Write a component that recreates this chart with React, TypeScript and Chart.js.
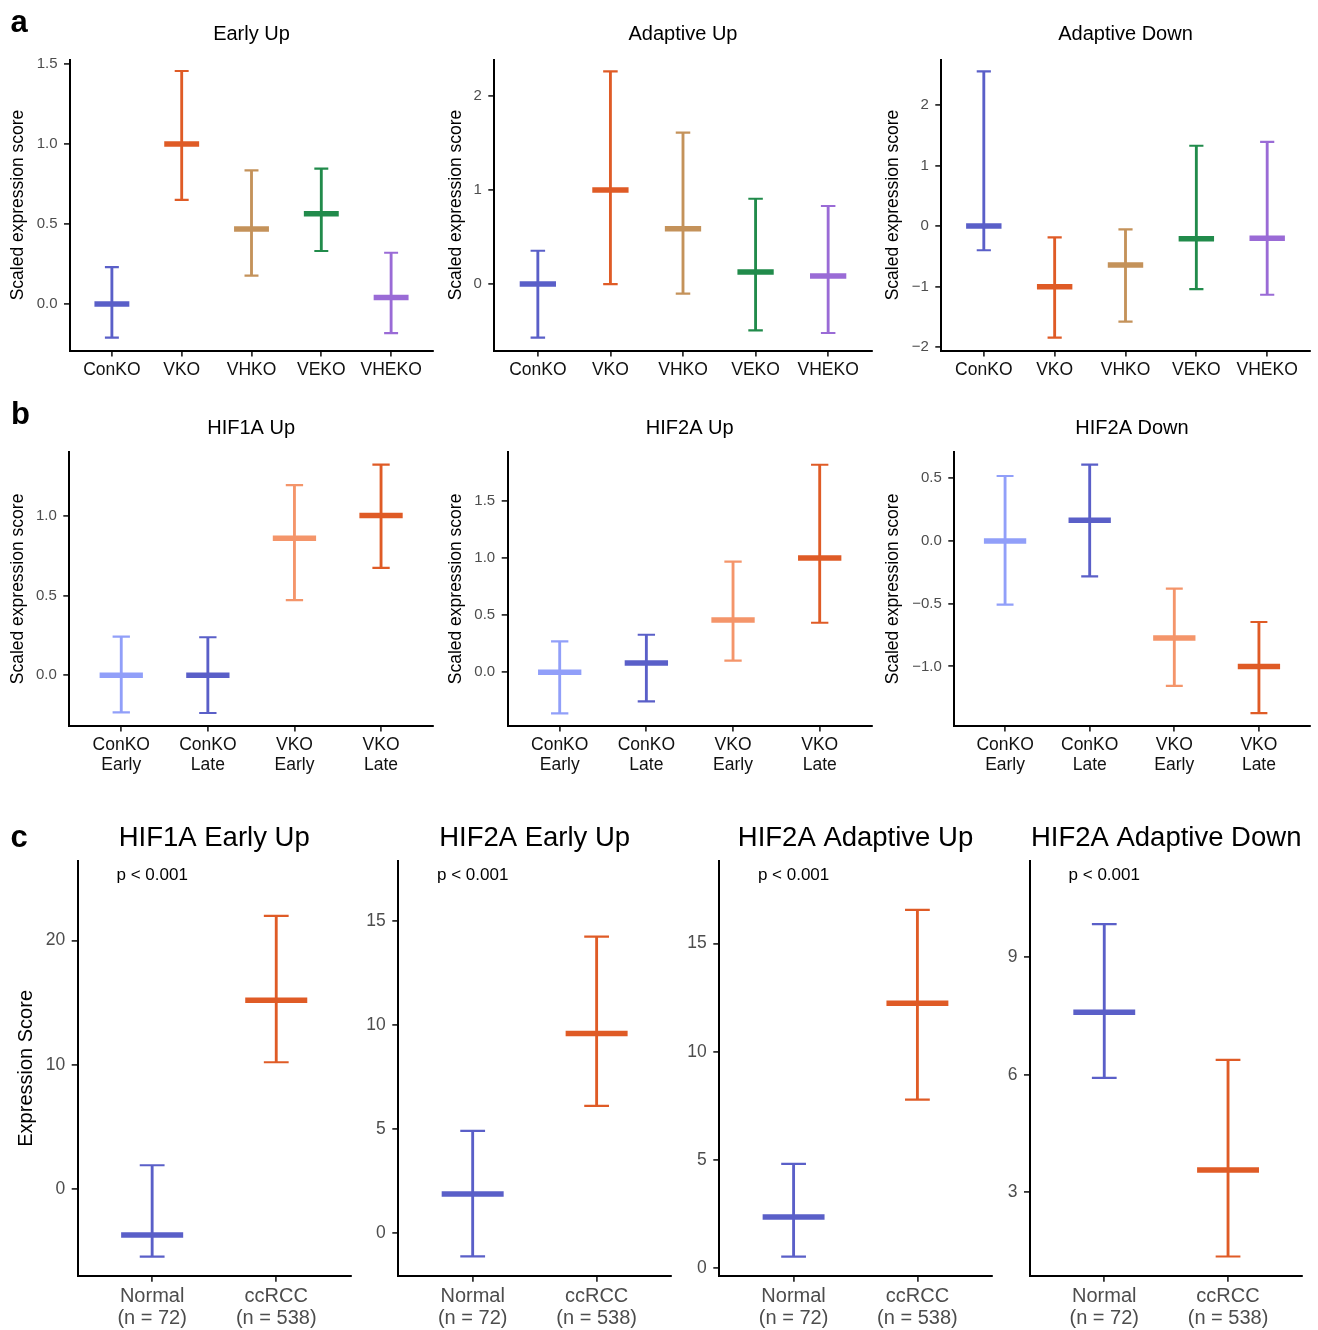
import React, { useEffect, useRef } from 'react';
import { Chart, registerables } from 'chart.js';

Chart.register(...registerables);

const FONT = "'Liberation Sans', Arial, Helvetica, sans-serif";

// ---------------- data: panel a ----------------
const koGroups = ['ConKO', 'VKO', 'VHKO', 'VEKO', 'VHEKO'];
const koColors = ['#5a5fc8', '#df5b26', '#c4925a', '#218b4b', '#9a6bd6'];

const earlyUpMean = [0, 1.0, 0.469, 0.564, 0.04];
const earlyUpLow = [-0.21, 0.65, 0.177, 0.331, -0.183];
const earlyUpHigh = [0.23, 1.456, 0.835, 0.846, 0.32];
const earlyUpTicks = ['0.0', '0.5', '1.0', '1.5'];

const adaptiveUpMean = [0, 1.0, 0.589, 0.128, 0.085];
const adaptiveUpLow = [-0.571, 0.0, -0.103, -0.493, -0.521];
const adaptiveUpHigh = [0.354, 2.262, 1.61, 0.907, 0.83];
const adaptiveUpTicks = ['0', '1', '2'];

const adaptiveDownMean = [0, -1.0, -0.644, -0.21, -0.203];
const adaptiveDownLow = [-0.4, -1.843, -1.579, -1.04, -1.134];
const adaptiveDownHigh = [2.553, -0.187, -0.055, 1.325, 1.39];
const adaptiveDownTicks = ['−2', '−1', '0', '1', '2'];

// ---------------- data: panel b ----------------
const timeGroups = [['ConKO', 'Early'], ['ConKO', 'Late'], ['VKO', 'Early'], ['VKO', 'Late']];
const timeColors = ['#919ff9', '#5a5fc8', '#f4956a', '#df5b26'];

const hif1aUpMean = [0, 0, 0.858, 1.0];
const hif1aUpLow = [-0.232, -0.236, 0.47, 0.672];
const hif1aUpHigh = [0.242, 0.238, 1.19, 1.319];
const hif1aUpTicks = ['0.0', '0.5', '1.0'];

const hif2aUpMean = [0, 0.081, 0.458, 1.0];
const hif2aUpLow = [-0.359, -0.254, 0.102, 0.434];
const hif2aUpHigh = [0.271, 0.329, 0.968, 1.816];
const hif2aUpTicks = ['0.0', '0.5', '1.0', '1.5'];

const hif2aDownMean = [0, 0.165, -0.774, -1.0];
const hif2aDownLow = [-0.508, -0.282, -1.156, -1.372];
const hif2aDownHigh = [0.518, 0.609, -0.38, -0.646];
const hif2aDownTicks = ['−1.0', '−0.5', '0.0', '0.5'];

// ---------------- data: panel c ----------------
const tcgaGroups = [['Normal', '(n = 72)'], ['ccRCC', '(n = 538)']];
const tcgaColors = ['#5a5fc8', '#df5b26'];
const pLabel = 'p < 0.001';

const hif1aEarlyUpMean = [-3.7, 15.19];
const hif1aEarlyUpLow = [-5.45, 10.2];
const hif1aEarlyUpHigh = [1.91, 21.98];
const hif1aEarlyUpTicks = ['0', '10', '20'];

const hif2aEarlyUpMean = [1.89, 9.6];
const hif2aEarlyUpLow = [-1.11, 6.13];
const hif2aEarlyUpHigh = [4.92, 14.26];
const hif2aEarlyUpTicks = ['0', '5', '10', '15'];

const hif2aAdaptiveUpMean = [2.37, 12.24];
const hif2aAdaptiveUpLow = [0.54, 7.79];
const hif2aAdaptiveUpHigh = [4.82, 16.55];
const hif2aAdaptiveUpTicks = ['0', '5', '10', '15'];

const hif2aAdaptiveDownMean = [7.6, 3.57];
const hif2aAdaptiveDownLow = [5.92, 1.36];
const hif2aAdaptiveDownHigh = [9.85, 6.38];
const hif2aAdaptiveDownTicks = ['3', '6', '9'];

// ---------------- layout / style ----------------
const rowA = { top: 0, height: 392, plotTop: 59.5, plotBottom: 350.5, titleSize: 20, titleBaseline: 40,
  yTitle: 'Scaled expression score', yTitleSize: 17.5, yTickSize: 15, xTickSize: 17.5, xTickColor: '#111', xLineHeight: 1.15 };
const rowB = { ...rowA, top: 392, height: 408, plotTop: 452.3, plotBottom: 725.6, titleBaseline: 42 };
const rowC = { top: 800, height: 530, plotTop: 861, plotBottom: 1275.7, titleSize: 27.5, titleBaseline: 46,
  yTitle: '', yTitleSize: 20, yTickSize: 17.5, xTickSize: 20, xTickColor: '#4d4d4d', xLineHeight: 1.1, pText: pLabel };

const panels: any[] = [
  { ...rowA, key: 'a1', groups: koGroups, colors: koColors, mean: earlyUpMean, low: earlyUpLow, high: earlyUpHigh, yTicks: earlyUpTicks,
    yMin: -0.291, yMax: 1.528, left: 0, width: 440, axisX: 70, right: 433, title: 'Early Up', yTitleX: 18,
    letter: 'a', letterX: 10.5, letterY: 32 },
  { ...rowA, key: 'a2', groups: koGroups, colors: koColors, mean: adaptiveUpMean, low: adaptiveUpLow, high: adaptiveUpHigh, yTicks: adaptiveUpTicks,
    yMin: -0.707, yMax: 2.388, left: 440, width: 438, axisX: 494.3, right: 871.7, title: 'Adaptive Up', yTitleX: 456 },
  { ...rowA, key: 'a3', groups: koGroups, colors: koColors, mean: adaptiveDownMean, low: adaptiveDownLow, high: adaptiveDownHigh, yTicks: adaptiveDownTicks,
    yMin: -2.054, yMax: 2.748, left: 878, width: 440, axisX: 941.3, right: 1309.7, title: 'Adaptive Down', yTitleX: 893 },
  { ...rowB, key: 'b1', groups: timeGroups, colors: timeColors, mean: hif1aUpMean, low: hif1aUpLow, high: hif1aUpHigh, yTicks: hif1aUpTicks,
    yMin: -0.315, yMax: 1.396, left: 0, width: 440, axisX: 69.3, right: 433, title: 'HIF1A Up', yTitleX: 18.3,
    letter: 'b', letterX: 11, letterY: 32.3 },
  { ...rowB, key: 'b2', groups: timeGroups, colors: timeColors, mean: hif2aUpMean, low: hif2aUpLow, high: hif2aUpHigh, yTicks: hif2aUpTicks,
    yMin: -0.466, yMax: 1.925, left: 440, width: 438, axisX: 507.7, right: 871.7, title: 'HIF2A Up', yTitleX: 456 },
  { ...rowB, key: 'b3', groups: timeGroups, colors: timeColors, mean: hif2aDownMean, low: hif2aDownLow, high: hif2aDownHigh, yTicks: hif2aDownTicks,
    yMin: -1.472, yMax: 0.707, left: 878, width: 440, axisX: 954.3, right: 1309.7, title: 'HIF2A Down', yTitleX: 893 },
  { ...rowC, key: 'c1', groups: tcgaGroups, colors: tcgaColors, mean: hif1aEarlyUpMean, low: hif1aEarlyUpLow, high: hif1aEarlyUpHigh, yTicks: hif1aEarlyUpTicks,
    yMin: -6.98, yMax: 26.4, left: 0, width: 358, axisX: 77.7, right: 350.7, title: 'HIF1A Early Up', yTitle: 'Expression Score', yTitleX: 26.7,
    letter: 'c', letterX: 10.5, letterY: 47.3 },
  { ...rowC, key: 'c2', groups: tcgaGroups, colors: tcgaColors, mean: hif2aEarlyUpMean, low: hif2aEarlyUpLow, high: hif2aEarlyUpHigh, yTicks: hif2aEarlyUpTicks,
    yMin: -2.04, yMax: 17.9, left: 358, width: 320, axisX: 398.3, right: 671, title: 'HIF2A Early Up' },
  { ...rowC, key: 'c3', groups: tcgaGroups, colors: tcgaColors, mean: hif2aAdaptiveUpMean, low: hif2aAdaptiveUpLow, high: hif2aAdaptiveUpHigh, yTicks: hif2aAdaptiveUpTicks,
    yMin: -0.34, yMax: 18.81, left: 678, width: 320, axisX: 719.3, right: 991.7, title: 'HIF2A Adaptive Up' },
  { ...rowC, key: 'c4', groups: tcgaGroups, colors: tcgaColors, mean: hif2aAdaptiveDownMean, low: hif2aAdaptiveDownLow, high: hif2aAdaptiveDownHigh, yTicks: hif2aAdaptiveDownTicks,
    yMin: 0.87, yMax: 11.46, left: 998, width: 320, axisX: 1030, right: 1302.3, title: 'HIF2A Adaptive Down' },
];

const panelTextPlugin = {
  id: 'panelText',
  afterDraw(chart: any, _args: any, opts: any) {
    const { ctx, chartArea } = chart;
    ctx.save();
    ctx.fillStyle = '#000';
    ctx.textBaseline = 'alphabetic';
    if (opts.title) {
      ctx.font = `${opts.titleSize}px ${FONT}`;
      ctx.textAlign = 'center';
      ctx.fillText(opts.title, (chartArea.left + chartArea.right) / 2, opts.titleBaseline);
    }
    if (opts.pText) {
      const xs = chart.scales.x;
      ctx.font = `17px ${FONT}`;
      ctx.textAlign = 'center';
      ctx.fillText(opts.pText, xs.getPixelForValue(0), chartArea.top + 19);
    }
    if (opts.letter) {
      ctx.font = `bold 31px ${FONT}`;
      ctx.textAlign = 'left';
      ctx.fillText(opts.letter, opts.letterX, opts.letterY);
    }
    ctx.restore();
  },
};

const spacing = (ctx: any) => {
  const xs = ctx.chart.scales.x;
  return xs ? Math.abs(xs.getPixelForValue(1) - xs.getPixelForValue(0)) : 10;
};

function buildChart(canvas: HTMLCanvasElement, p: any) {
  const n = p.groups.length;
  const yTickValues = p.yTicks.map((s: string) => Number(s.replace('−', '-')));
  const axisGrid = { display: true, drawOnChartArea: false, drawTicks: true, tickLength: 6, color: '#333333', lineWidth: 1.8, offset: false };
  const axisBorder = { display: true, color: '#000', width: 2 };
  const meanRadius = (ctx: any) => spacing(ctx) * 0.25;
  const capRadius = (ctx: any) => spacing(ctx) * 0.1;
  return new Chart(canvas, {
    type: 'scatter',
    data: {
      datasets: [
        {
          type: 'scatter', order: 0,
          data: p.mean.map((v: number, i: number) => ({ x: i, y: v })),
          pointStyle: 'line', pointRadius: meanRadius, pointHoverRadius: meanRadius,
          pointBorderWidth: 5.5, pointHoverBorderWidth: 5.5,
          pointBorderColor: p.colors, pointBackgroundColor: p.colors,
        },
        {
          type: 'scatter', order: 1,
          data: [
            ...p.low.map((v: number, i: number) => ({ x: i, y: v })),
            ...p.high.map((v: number, i: number) => ({ x: i, y: v })),
          ],
          pointStyle: 'line', pointRadius: capRadius, pointHoverRadius: capRadius,
          pointBorderWidth: 2.2, pointHoverBorderWidth: 2.2,
          pointBorderColor: [...p.colors, ...p.colors], pointBackgroundColor: [...p.colors, ...p.colors],
        },
        {
          type: 'bar', order: 2,
          data: p.low.map((v: number, i: number) => ({ x: i, y: [v, p.high[i]] })),
          barThickness: 2.2, backgroundColor: p.colors, borderWidth: 0,
        },
      ],
    } as any,
    options: {
      responsive: false,
      animation: false,
      devicePixelRatio: 1,
      events: [],
      layout: { padding: { left: 0, top: p.plotTop - p.top, right: p.left + p.width - p.right, bottom: 0 } },
      plugins: {
        legend: { display: false },
        tooltip: { enabled: false },
        title: { display: false },
        panelText: {
          title: p.title, titleSize: p.titleSize, titleBaseline: p.titleBaseline,
          pText: p.pText, letter: p.letter, letterX: p.letterX, letterY: p.letterY,
        },
      } as any,
      scales: {
        x: {
          type: 'linear', position: 'bottom', min: -0.6, max: n - 0.4, offset: false, bounds: 'data',
          afterBuildTicks: (s: any) => { s.ticks = p.groups.map((_: any, i: number) => ({ value: i })); },
          afterFit: (s: any) => { s.height = p.top + p.height - p.plotBottom; },
          grid: axisGrid, border: axisBorder,
          ticks: {
            autoSkip: false, maxRotation: 0, minRotation: 0, padding: 3.5, color: p.xTickColor,
            font: { family: FONT, size: p.xTickSize, lineHeight: p.xLineHeight },
            callback: (_v: any, i: number) => p.groups[i],
          },
        },
        y: {
          type: 'linear', position: 'left', min: p.yMin, max: p.yMax, bounds: 'data',
          afterBuildTicks: (s: any) => { s.ticks = yTickValues.map((v: number) => ({ value: v })); },
          afterFit: (s: any) => { s.width = p.axisX - p.left; },
          grid: axisGrid, border: axisBorder,
          ticks: {
            autoSkip: false, padding: 6.5, color: '#4d4d4d',
            font: { family: FONT, size: p.yTickSize },
            callback: (_v: any, i: number) => p.yTicks[i],
          },
          title: p.yTitle
            ? {
                display: true, text: p.yTitle, color: '#000',
                font: { family: FONT, size: p.yTitleSize, lineHeight: 1.2 },
                padding: { top: p.yTitleX - p.left - p.yTitleSize * 0.6, bottom: 0 },
              }
            : { display: false },
        },
      } as any,
    },
    plugins: [panelTextPlugin as any],
  } as any);
}

function Panel({ p }: { p: any }) {
  const ref = useRef<HTMLCanvasElement | null>(null);
  useEffect(() => {
    if (!ref.current) return;
    const chart = buildChart(ref.current, p);
    return () => chart.destroy();
  }, [p]);
  return (
    <canvas
      ref={ref}
      width={p.width}
      height={p.height}
      style={{ position: 'absolute', left: p.left, top: p.top, width: p.width, height: p.height }}
    />
  );
}

export default function App() {
  return (
    <div style={{ position: 'absolute', left: 0, top: 0, width: 1318, height: 1330, background: '#ffffff', overflow: 'hidden' }}>
      {panels.map((p) => (
        <Panel key={p.key} p={p} />
      ))}
    </div>
  );
}
